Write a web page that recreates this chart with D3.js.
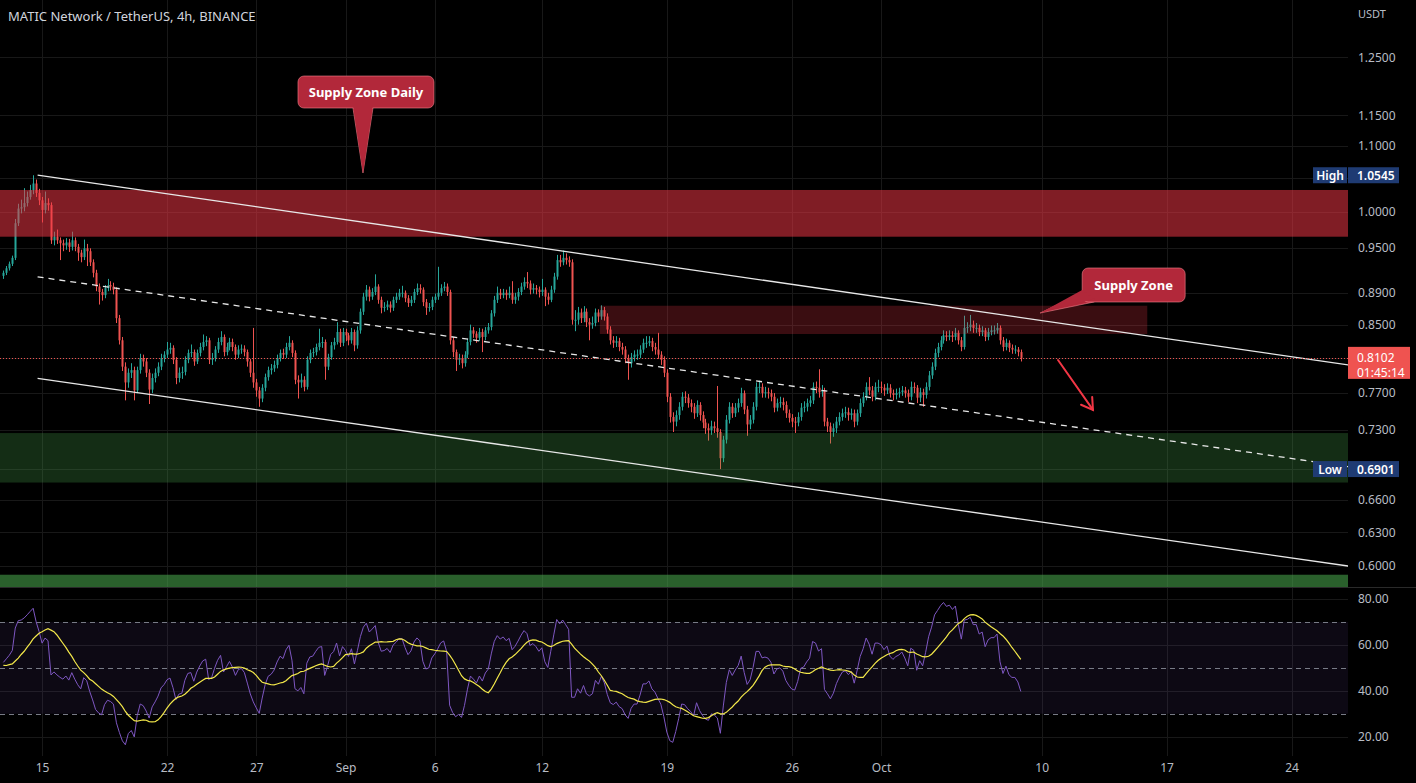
<!DOCTYPE html>
<html><head><meta charset="utf-8">
<script src="https://cdn.jsdelivr.net/npm/d3@7"></script>
<style>
html,body{margin:0;padding:0;background:#000;}
svg{display:block;font-family:"Noto Sans",sans-serif;}
</style></head><body>
<svg id="chart" width="1416" height="783"></svg>
<script>
// ---------------- DATA ----------------
const title = "MATIC Network / TetherUS, 4h, BINANCE";
const quoteCurrency = "USDT";
const candleStart = "2022-08-12T20:00:00Z"; // 4h candles
const firstOpen = 0.912;
const closes = [
0.916,0.922,0.928,0.936,0.984,1.005,1.007,1.013,1.022,1.032,
1.042,1.028,1.017,1.003,1.013,1.010,0.960,0.965,0.960,0.956,
0.953,0.957,0.951,0.960,0.951,0.943,0.937,0.949,0.945,0.930,
0.916,0.898,0.891,0.887,0.896,0.900,0.898,0.894,0.858,0.831,
0.800,0.782,0.793,0.796,0.773,0.796,0.810,0.806,0.793,0.774,
0.787,0.793,0.800,0.810,0.814,0.820,0.822,0.808,0.787,0.793,
0.794,0.808,0.816,0.817,0.806,0.816,0.823,0.829,0.831,0.808,
0.810,0.820,0.829,0.835,0.817,0.823,0.829,0.823,0.814,0.820,
0.821,0.817,0.806,0.793,0.782,0.773,0.764,0.776,0.788,0.796,
0.798,0.802,0.810,0.816,0.814,0.823,0.828,0.816,0.785,0.782,
0.785,0.777,0.808,0.816,0.817,0.823,0.828,0.829,0.800,0.811,
0.825,0.829,0.841,0.828,0.841,0.837,0.831,0.841,0.825,0.843,
0.866,0.885,0.894,0.885,0.891,0.898,0.881,0.871,0.872,0.875,
0.871,0.881,0.885,0.890,0.890,0.883,0.877,0.881,0.891,0.896,
0.894,0.878,0.871,0.872,0.881,0.885,0.890,0.896,0.898,0.891,
0.831,0.817,0.808,0.810,0.804,0.814,0.829,0.843,0.839,0.834,
0.841,0.835,0.843,0.847,0.864,0.881,0.890,0.887,0.890,0.887,
0.890,0.881,0.885,0.891,0.898,0.904,0.902,0.894,0.896,0.894,
0.891,0.894,0.885,0.881,0.894,0.911,0.933,0.930,0.936,0.933,
0.930,0.856,0.856,0.865,0.858,0.866,0.853,0.850,0.852,0.865,
0.860,0.868,0.860,0.844,0.831,0.828,0.830,0.823,0.820,0.810,
0.804,0.811,0.814,0.814,0.820,0.828,0.828,0.830,0.823,0.820,
0.814,0.808,0.793,0.766,0.744,0.739,0.746,0.755,0.766,0.765,
0.759,0.755,0.748,0.757,0.746,0.738,0.732,0.730,0.734,0.732,
0.728,0.701,0.720,0.741,0.755,0.748,0.754,0.759,0.770,0.752,
0.736,0.741,0.755,0.777,0.777,0.770,0.771,0.770,0.766,0.754,
0.759,0.760,0.757,0.748,0.743,0.739,0.738,0.744,0.754,0.755,
0.759,0.762,0.777,0.776,0.771,0.773,0.739,0.734,0.728,0.732,
0.739,0.744,0.748,0.749,0.746,0.748,0.739,0.748,0.759,0.766,
0.777,0.773,0.766,0.777,0.777,0.776,0.773,0.776,0.770,0.768,
0.770,0.771,0.773,0.770,0.766,0.777,0.776,0.765,0.771,0.768,
0.777,0.790,0.800,0.816,0.823,0.831,0.837,0.835,0.837,0.835,
0.840,0.831,0.823,0.846,0.847,0.850,0.846,0.846,0.841,0.843,
0.835,0.841,0.843,0.843,0.846,0.831,0.823,0.828,0.822,0.820,
0.820,0.817,0.8102];
const highs = [
0.919,0.925,0.931,0.939,0.990,1.012,1.018,1.035,1.030,1.040,
1.0545,1.048,1.034,1.022,1.030,1.020,1.014,0.972,0.975,0.964,
0.961,0.963,0.962,0.972,0.964,0.955,0.947,0.961,0.955,0.949,
0.934,0.920,0.902,0.895,0.900,0.908,0.905,0.903,0.897,0.862,
0.835,0.805,0.798,0.804,0.800,0.800,0.815,0.814,0.810,0.797,
0.792,0.798,0.805,0.815,0.818,0.829,0.828,0.825,0.811,0.799,
0.800,0.812,0.820,0.826,0.820,0.820,0.828,0.838,0.836,0.834,
0.816,0.824,0.834,0.842,0.838,0.828,0.834,0.833,0.826,0.825,
0.826,0.825,0.820,0.809,0.846,0.786,0.777,0.780,0.792,0.800,
0.803,0.807,0.814,0.820,0.821,0.828,0.836,0.831,0.819,0.790,
0.792,0.789,0.812,0.820,0.822,0.827,0.845,0.835,0.832,0.815,
0.829,0.834,0.853,0.845,0.846,0.845,0.840,0.846,0.844,0.848,
0.870,0.890,0.900,0.898,0.896,0.914,0.901,0.885,0.878,0.880,
0.879,0.885,0.890,0.895,0.899,0.893,0.887,0.886,0.895,0.902,
0.901,0.897,0.882,0.877,0.885,0.889,0.924,0.901,0.904,0.902,
0.894,0.835,0.820,0.815,0.814,0.818,0.833,0.850,0.847,0.842,
0.846,0.845,0.847,0.852,0.868,0.886,0.898,0.895,0.895,0.894,
0.898,0.905,0.890,0.896,0.903,0.910,0.917,0.906,0.902,0.900,
0.898,0.908,0.897,0.890,0.899,0.916,0.940,0.940,0.946,0.942,
0.938,0.934,0.868,0.872,0.870,0.873,0.870,0.858,0.860,0.870,
0.869,0.874,0.872,0.864,0.848,0.836,0.836,0.834,0.828,0.824,
0.814,0.816,0.819,0.820,0.825,0.833,0.836,0.836,0.834,0.828,
0.840,0.818,0.812,0.797,0.770,0.749,0.751,0.760,0.771,0.772,
0.769,0.763,0.759,0.762,0.760,0.750,0.742,0.737,0.740,0.739,
0.778,0.731,0.724,0.746,0.760,0.759,0.759,0.764,0.776,0.773,
0.756,0.746,0.760,0.782,0.784,0.781,0.777,0.776,0.774,0.770,
0.764,0.766,0.765,0.761,0.752,0.747,0.744,0.749,0.759,0.761,
0.764,0.767,0.782,0.783,0.797,0.779,0.776,0.743,0.738,0.737,
0.744,0.749,0.753,0.755,0.754,0.753,0.752,0.752,0.764,0.771,
0.782,0.788,0.778,0.782,0.785,0.783,0.780,0.781,0.780,0.774,
0.775,0.776,0.778,0.777,0.774,0.783,0.782,0.779,0.776,0.775,
0.782,0.795,0.805,0.821,0.828,0.836,0.843,0.842,0.843,0.842,
0.846,0.843,0.835,0.861,0.853,0.862,0.855,0.852,0.850,0.848,
0.846,0.846,0.849,0.849,0.852,0.849,0.835,0.833,0.831,0.826,
0.825,0.823,0.820];
const lows = [
0.908,0.913,0.919,0.925,0.933,0.980,0.998,1.001,1.008,1.018,
1.026,1.022,1.010,0.985,0.998,1.002,0.955,0.953,0.955,0.933,
0.945,0.947,0.944,0.946,0.945,0.932,0.930,0.933,0.925,0.925,
0.910,0.892,0.875,0.880,0.883,0.892,0.893,0.888,0.852,0.826,
0.795,0.762,0.776,0.787,0.762,0.770,0.792,0.800,0.788,0.758,
0.770,0.782,0.789,0.796,0.805,0.810,0.815,0.803,0.780,0.782,
0.786,0.790,0.804,0.811,0.801,0.803,0.812,0.819,0.824,0.803,
0.802,0.806,0.816,0.825,0.812,0.813,0.819,0.818,0.808,0.810,
0.815,0.812,0.800,0.788,0.776,0.766,0.755,0.760,0.772,0.784,
0.791,0.794,0.798,0.806,0.809,0.810,0.819,0.811,0.780,0.764,
0.776,0.772,0.774,0.804,0.811,0.813,0.819,0.822,0.785,0.796,
0.808,0.820,0.826,0.823,0.824,0.830,0.825,0.827,0.818,0.821,
0.839,0.862,0.880,0.879,0.881,0.887,0.876,0.864,0.866,0.868,
0.865,0.867,0.877,0.881,0.884,0.878,0.872,0.873,0.877,0.887,
0.889,0.873,0.862,0.866,0.868,0.877,0.881,0.886,0.892,0.886,
0.826,0.811,0.795,0.802,0.798,0.800,0.810,0.825,0.834,0.828,
0.830,0.817,0.831,0.839,0.843,0.860,0.877,0.882,0.883,0.881,
0.883,0.876,0.876,0.880,0.887,0.894,0.896,0.888,0.889,0.888,
0.884,0.886,0.873,0.875,0.878,0.890,0.907,0.924,0.926,0.927,
0.924,0.850,0.842,0.850,0.852,0.853,0.847,0.831,0.845,0.848,
0.853,0.856,0.855,0.839,0.826,0.822,0.823,0.818,0.814,0.804,
0.785,0.799,0.806,0.808,0.810,0.816,0.822,0.824,0.818,0.814,
0.809,0.802,0.788,0.760,0.738,0.728,0.734,0.741,0.751,0.759,
0.754,0.749,0.742,0.744,0.740,0.732,0.726,0.719,0.725,0.727,
0.722,0.6901,0.697,0.716,0.737,0.743,0.744,0.749,0.755,0.747,
0.724,0.731,0.737,0.751,0.770,0.765,0.765,0.764,0.761,0.749,
0.750,0.754,0.751,0.743,0.738,0.733,0.727,0.734,0.740,0.749,
0.750,0.755,0.758,0.770,0.765,0.766,0.734,0.728,0.716,0.723,
0.727,0.735,0.740,0.743,0.740,0.741,0.733,0.735,0.744,0.755,
0.762,0.768,0.761,0.762,0.771,0.770,0.767,0.769,0.765,0.762,
0.763,0.765,0.767,0.765,0.760,0.762,0.770,0.759,0.760,0.755,
0.764,0.773,0.786,0.796,0.811,0.819,0.827,0.830,0.831,0.829,
0.831,0.826,0.818,0.820,0.840,0.842,0.840,0.840,0.836,0.836,
0.830,0.831,0.837,0.838,0.839,0.826,0.818,0.819,0.817,0.815,
0.815,0.812,0.806];
// closes before the visible window (RSI warm-up)
const warmupCloses = [0.900,0.917,0.903,0.922,0.908,0.928,0.913,0.930,0.915,0.933,
0.918,0.930,0.914,0.928,0.911,0.925,0.909,0.922,0.905,0.920,
0.903,0.917,0.901,0.915,0.899,0.913,0.900,0.915,0.904,0.912];
const countdown = "01:45:14";
const priceTicks = [1.25,1.15,1.10,1.05,1.00,0.95,0.89,0.85,0.81,0.77,0.73,0.69,0.66,0.63,0.60];
const rsiTicks = [80,60,40,20];
const rsiLevels = [70,50,30];
const dateTicks = ["2022-08-15","2022-08-22","2022-08-27","2022-09-01","2022-09-06","2022-09-12",
                   "2022-09-19","2022-09-26","2022-10-01","2022-10-10","2022-10-17","2022-10-24"];
const dateTickLabels = ["15","22","27","Sep","6","12","19","26","Oct","10","17","24"];
// zones: [from, to, top price, bottom price]
const zoneDaily  = ["2022-08-01T00:00:00Z","2022-10-30T00:00:00Z",1.0323,0.9650];
const zoneSupply = ["2022-09-15T06:00:00Z","2022-10-15T22:00:00Z",0.8735,0.8386];
const zoneDemand = ["2022-08-01T00:00:00Z","2022-10-30T00:00:00Z",0.7269,0.6768];
const zoneBottom = ["2022-08-01T00:00:00Z","2022-10-30T00:00:00Z",0.5925,0.5500];
// channel lines: [[date, price],[date, price]]
const lineUpper  = [["2022-08-14T18:00:00Z",1.0548],["2022-10-27T04:00:00Z",0.8020]];
const lineMiddle = [["2022-08-14T18:00:00Z",0.9107],["2022-10-27T04:00:00Z",0.6925]];
const lineLower  = [["2022-08-14T18:00:00Z",0.7866],["2022-10-27T04:00:00Z",0.6000]];
const arrowPts   = [["2022-10-10T22:00:00Z",0.8077],["2022-10-12T21:00:00Z",0.7516]];
const calloutDaily  = {text:"Supply Zone Daily", tip:["2022-09-01T23:30:00Z",1.0579]};
const calloutSupply = {text:"Supply Zone", tip:["2022-10-09T22:00:00Z",0.8644]};

// ---------------- LAYOUT ----------------
const W=1416,H=783, plotR=1348, pBottom=587, rTop=588, rBottom=756;
const svg=d3.select("#chart");
svg.append("rect").attr("width",W).attr("height",H).attr("fill","#000");
const x=d3.scaleUtc().domain([new Date("2022-09-01T00:00:00Z"),new Date("2022-10-10T00:00:00Z")]).range([345.5,345.5+39*17.85]);
const y=d3.scaleLog().domain([0.5821,1.3579]).range([pBottom,0]);
const yr=d3.scaleLinear().domain([20,80]).range([736.7,599]);
const T=s=>new Date(s);

const defs=svg.append("defs");
defs.append("clipPath").attr("id","pc").append("rect").attr("x",0).attr("y",0).attr("width",plotR).attr("height",pBottom);
defs.append("clipPath").attr("id","rc").append("rect").attr("x",0).attr("y",rTop).attr("width",plotR).attr("height",rBottom-rTop);

const grid="#181818";
// vertical grid
svg.append("g").selectAll("line").data(dateTicks).join("line")
  .attr("x1",d=>Math.round(x(T(d+"T00:00:00Z")))+0.5).attr("x2",d=>Math.round(x(T(d+"T00:00:00Z")))+0.5)
  .attr("y1",0).attr("y2",rBottom).attr("stroke",grid);
// horizontal grid
svg.append("g").selectAll("line").data(priceTicks).join("line")
  .attr("x1",0).attr("x2",plotR).attr("y1",d=>Math.round(y(d))+0.5).attr("y2",d=>Math.round(y(d))+0.5).attr("stroke",grid);
svg.append("g").selectAll("line").data(rsiTicks).join("line")
  .attr("x1",0).attr("x2",plotR).attr("y1",d=>Math.round(yr(d))+0.5).attr("y2",d=>Math.round(yr(d))+0.5).attr("stroke",grid);

// ---------------- CANDLES ----------------
const t0=T(candleStart).getTime();
const candles=closes.map((c,i)=>{const o=i===0?firstOpen:closes[i-1];
  return {t:new Date(t0+i*4*3600e3),o,c,h:Math.max(highs[i],o,c),l:Math.min(lows[i],o,c)};});
const up="#26a69a", dn="#ef5350";
const cg=svg.append("g").attr("clip-path","url(#pc)");
cg.selectAll("line").data(candles).join("line")
  .attr("x1",d=>Math.round(x(d.t))+0.5).attr("x2",d=>Math.round(x(d.t))+0.5)
  .attr("y1",d=>y(d.h)).attr("y2",d=>y(d.l)).attr("stroke",d=>d.c>=d.o?up:dn).attr("stroke-width",1);
cg.selectAll("rect").data(candles).join("rect")
  .attr("x",d=>Math.round(x(d.t))-0.5).attr("width",2)
  .attr("y",d=>Math.min(y(d.o),y(d.c))).attr("height",d=>Math.max(1,Math.abs(y(d.o)-y(d.c))))
  .attr("fill",d=>d.c>=d.o?up:dn);

// ---------------- ZONES ----------------
const zg=svg.append("g").attr("clip-path","url(#pc)");
function zone(z,fill){zg.append("rect").attr("x",x(T(z[0]))).attr("width",x(T(z[1]))-x(T(z[0])))
  .attr("y",y(z[2])).attr("height",y(z[3])-y(z[2])).attr("fill",fill);}
zone(zoneDaily,"rgba(242,54,69,0.53)");
zone(zoneSupply,"rgba(242,54,69,0.24)");
zone(zoneDemand,"rgba(76,175,80,0.26)");
zone(zoneBottom,"rgba(76,175,80,0.55)");

// ---------------- LINES ----------------
function tline(pts,dash){zg.append("line").attr("x1",x(T(pts[0][0]))).attr("y1",y(pts[0][1]))
  .attr("x2",x(T(pts[1][0]))).attr("y2",y(pts[1][1])).attr("stroke","#e8e8e8").attr("stroke-width",1.3)
  .attr("stroke-dasharray",dash||null);}
tline(lineUpper); tline(lineMiddle,"6,5"); tline(lineLower);

// current price dotted line
const last=candles[candles.length-1];
zg.append("line").attr("x1",0).attr("x2",plotR).attr("y1",Math.round(y(last.c))+0.5).attr("y2",Math.round(y(last.c))+0.5)
  .attr("stroke","#ef5350").attr("stroke-dasharray","1,2");

// arrow
{const ax1=x(T(arrowPts[0][0])),ay1=y(arrowPts[0][1]),ax2=x(T(arrowPts[1][0])),ay2=y(arrowPts[1][1]);
 const ang=Math.atan2(ay2-ay1,ax2-ax1), L=13, sp=0.55;
 const ag=svg.append("g").attr("stroke","#f23645").attr("stroke-width",2).attr("fill","none").attr("stroke-linecap","round");
 ag.append("line").attr("x1",ax1).attr("y1",ay1).attr("x2",ax2).attr("y2",ay2);
 ag.append("path").attr("d",`M${ax2-L*Math.cos(ang-sp)},${ay2-L*Math.sin(ang-sp)} L${ax2},${ay2} L${ax2-L*Math.cos(ang+sp)},${ay2-L*Math.sin(ang+sp)}`);
}

// ---------------- CALLOUTS ----------------
function callout(c,box,tail){
  const tx=x(T(c.tip[0])), ty=y(c.tip[1]);
  const g=svg.append("g");
  g.append("path").attr("d",`M${tx+tail[0][0]},${ty+tail[0][1]} L${tx},${ty} L${tx+tail[1][0]},${ty+tail[1][1]} Z`)
    .attr("fill","#b2283a").attr("stroke","rgba(255,140,150,0.55)").attr("stroke-width",1);
  g.append("rect").attr("x",tx+box[0]).attr("y",ty+box[1]).attr("width",box[2]).attr("height",box[3]).attr("rx",6)
    .attr("fill","#b2283a").attr("stroke","rgba(255,140,150,0.55)").attr("stroke-width",1);
  g.append("path").attr("d",`M${tx+tail[0][0]},${ty+tail[0][1]-3} L${tx},${ty} L${tx+tail[1][0]},${ty+tail[1][1]-3} Z`)
    .attr("fill","#b2283a");
  g.append("text").attr("x",tx+box[0]+box[2]/2).attr("y",ty+box[1]+box[3]/2).attr("text-anchor","middle")
    .attr("dominant-baseline","central").attr("fill","#fff").attr("font-size",13).attr("font-weight",700).text(c.text);
}
callout(calloutDaily,[-65,-97,136,32],[[-10,-65],[10,-65]]);
callout(calloutSupply,[42,-45,103,34],[[42,-20],[54,-11]]);

// ---------------- RSI ----------------
const all=warmupCloses.concat(closes);
const rsiAll=new Array(all.length).fill(null);
let ag=0,al=0;
for(let k=1;k<=14;k++){const d=all[k]-all[k-1]; if(d>0)ag+=d; else al-=d;}
ag/=14; al/=14; rsiAll[14]=100-100/(1+ag/al);
for(let k=15;k<all.length;k++){const d=all[k]-all[k-1];
  ag=(ag*13+Math.max(d,0))/14; al=(al*13+Math.max(-d,0))/14; rsiAll[k]=al===0?100:100-100/(1+ag/al);}
const smaAll=rsiAll.map((v,k)=>k<27?null:d3.mean(rsiAll.slice(k-13,k+1)));
const off=warmupCloses.length;
const rsi=candles.map((d,i)=>({t:d.t,v:rsiAll[i+off],m:smaAll[i+off]}));

const rg=svg.append("g").attr("clip-path","url(#rc)");
rg.append("rect").attr("x",0).attr("width",plotR).attr("y",yr(70)).attr("height",yr(30)-yr(70)).attr("fill","rgba(126,87,194,0.1)");
rg.selectAll("line.lvl").data(rsiLevels).join("line").attr("class","lvl")
  .attr("x1",0).attr("x2",plotR).attr("y1",d=>Math.round(yr(d))+0.5).attr("y2",d=>Math.round(yr(d))+0.5)
  .attr("stroke","#787b86").attr("stroke-dasharray","5,4");
rg.append("path").datum(rsi).attr("fill","none").attr("stroke","#7e57c2").attr("stroke-width",1)
  .attr("d",d3.line().x(d=>x(d.t)).y(d=>yr(d.v)));
rg.append("path").datum(rsi).attr("fill","none").attr("stroke","#f3e84a").attr("stroke-width",1.2)
  .attr("d",d3.line().x(d=>x(d.t)).y(d=>yr(d.m)));

// pane separator
svg.append("line").attr("x1",0).attr("x2",W).attr("y1",pBottom+0.5).attr("y2",pBottom+0.5).attr("stroke","#2a2a2a");

// ---------------- AXES ----------------
const axCol="#b8bcc4";
const pa=svg.append("g").attr("transform",`translate(${plotR},0)`)
  .call(d3.axisRight(y).tickValues(priceTicks).tickFormat(d3.format(".4f")).tickSize(0).tickPadding(10));
const ra=svg.append("g").attr("transform",`translate(${plotR},0)`)
  .call(d3.axisRight(yr).tickValues(rsiTicks).tickFormat(d3.format(".2f")).tickSize(0).tickPadding(10));
const xa=svg.append("g").attr("transform",`translate(0,758)`)
  .call(d3.axisBottom(x).tickValues(dateTicks.map(d=>T(d+"T00:00:00Z"))).tickFormat((d,i)=>dateTickLabels[i]).tickSize(0).tickPadding(5));
[pa,ra,xa].forEach(a=>{a.select(".domain").remove();
  a.selectAll("text").attr("fill",axCol).attr("font-size",12).attr("font-family","Noto Sans, sans-serif");});

svg.append("text").attr("x",1358).attr("y",18).attr("fill",axCol).attr("font-size",11).text(quoteCurrency);
svg.append("text").attr("x",8).attr("y",21).attr("fill","#d1d4dc").attr("font-size",13).text(title);

// High / Low badges
function badge(label,val){
  const yy=y(val), g=svg.append("g");
  g.append("rect").attr("x",1313).attr("y",yy-8).attr("width",34).attr("height",16).attr("fill","#1f3b73");
  g.append("rect").attr("x",1348).attr("y",yy-8).attr("width",51).attr("height",16).attr("fill","#1f3b73");
  g.append("text").attr("x",1330).attr("y",yy).attr("dominant-baseline","central").attr("text-anchor","middle")
    .attr("fill","#fff").attr("font-size",12).attr("font-weight",600).text(label);
  g.append("text").attr("x",1357).attr("y",yy).attr("dominant-baseline","central")
    .attr("fill","#fff").attr("font-size",12).attr("font-weight",600).text(d3.format(".4f")(val));
}
badge("High",d3.max(highs));
badge("Low",d3.min(lows));

// last price badge
{const yy=y(last.c), g=svg.append("g");
 g.append("rect").attr("x",1348).attr("y",yy-11).attr("width",62).attr("height",32).attr("fill","#ef5350");
 g.append("text").attr("x",1357).attr("y",yy).attr("dominant-baseline","central").attr("fill","#fff").attr("font-size",12).text(d3.format(".4f")(last.c));
 g.append("text").attr("x",1357).attr("y",yy+15).attr("dominant-baseline","central").attr("fill","#fff").attr("font-size",12).text(countdown);
}
</script>
</body></html>
